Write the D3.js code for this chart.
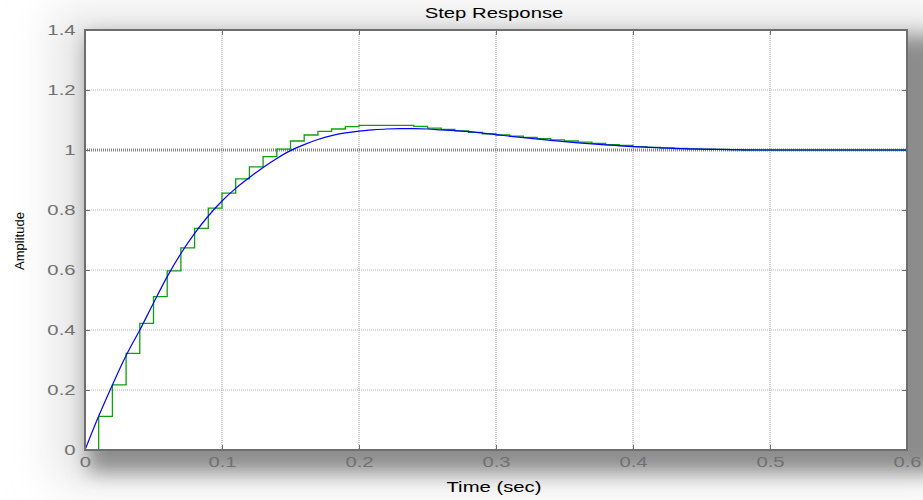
<!DOCTYPE html>
<html>
<head>
<meta charset="utf-8">
<script src="https://cdn.jsdelivr.net/npm/d3@7"></script>
<style>
  body { margin: 0; background: #fff; }
  text { font-family: "Liberation Sans", Arial, sans-serif; }
</style>
</head>
<body>
<div id="chart"></div>
<script>
// continuous response (blue)
var contTime = [0, 0.01, 0.02, 0.03, 0.04, 0.05, 0.06, 0.07, 0.08, 0.09, 0.10, 0.11, 0.12, 0.13, 0.14, 0.15,
    0.16, 0.17, 0.18, 0.19, 0.20, 0.21, 0.22, 0.23, 0.24, 0.25, 0.26, 0.28, 0.30, 0.32, 0.34, 0.36, 0.38,
    0.40, 0.42, 0.44, 0.46, 0.50, 0.55, 0.60];
var contAmp = [0, 0.113, 0.217, 0.315, 0.400, 0.490, 0.578, 0.655, 0.722, 0.780, 0.830, 0.872, 0.908, 0.942, 0.972, 0.998,
    1.018, 1.035, 1.048, 1.057, 1.063, 1.067, 1.070, 1.071, 1.071, 1.070, 1.067, 1.061, 1.051, 1.041, 1.032, 1.024, 1.017,
    1.011, 1.007, 1.004, 1.002, 1.000, 1.000, 1.000];

// discrete response (green), one value per 0.01 s sample
var sampleTime = d3.range(0, 61).map(function (k) { return k / 100; });
var discAmp = [0, 0.112, 0.217, 0.322, 0.422, 0.511, 0.597, 0.674, 0.739, 0.806,
    0.856, 0.904, 0.944, 0.978, 1.003, 1.030, 1.050, 1.062, 1.070, 1.078,
    1.082, 1.082, 1.082, 1.082, 1.079, 1.073, 1.069, 1.064, 1.059, 1.054,
    1.050, 1.046, 1.042, 1.038, 1.034, 1.030, 1.026, 1.022, 1.018, 1.015,
    1.011, 1.009, 1.007, 1.005, 1.004, 1.003, 1.002, 1.001, 1.000, 1.000,
    1.000, 1.000, 1.000, 1.000, 1.000, 1.000, 1.000, 1.000, 1.000, 1.000, 1.000];

var xTicks = [0, 0.1, 0.2, 0.3, 0.4, 0.5, 0.6];
var yTicks = [0, 0.2, 0.4, 0.6, 0.8, 1, 1.2, 1.4];

function draw_stepChart() {
    var W = 923, H = 500;
    var pLeft = 85, pRight = 907, pTop = 30, pBottom = 450;

    var svg = d3.select("#chart").append("svg")
        .attr("width", W)
        .attr("height", H);

    var defs = svg.append("defs");
    defs.append("filter")
        .attr("id", "shadow")
        .attr("x", "-20%").attr("y", "-20%")
        .attr("width", "140%").attr("height", "140%")
        .append("feGaussianBlur")
        .attr("stdDeviation", 10);
    defs.append("filter")
        .attr("id", "halo")
        .attr("x", "-20%").attr("y", "-20%")
        .attr("width", "140%").attr("height", "140%")
        .append("feGaussianBlur")
        .attr("stdDeviation", 22);

    // soft drop shadow behind the axes
    svg.append("rect")
        .attr("x", 55).attr("y", 12)
        .attr("width", 900).attr("height", 470)
        .attr("fill", "#e4e4e4")
        .attr("filter", "url(#halo)");

    svg.append("rect")
        .attr("x", 88).attr("y", 36)
        .attr("width", 860).attr("height", 436)
        .attr("fill", "#8c8c8c")
        .attr("filter", "url(#shadow)");

    var x = d3.scaleLinear().domain([0, 0.6]).range([pLeft, pRight]);
    var y = d3.scaleLinear().domain([0, 1.4]).range([pBottom, pTop]);

    svg.append("rect")
        .attr("x", pLeft).attr("y", pTop)
        .attr("width", pRight - pLeft).attr("height", pBottom - pTop)
        .attr("fill", "#fff");

    // grid
    svg.append("g")
        .selectAll("line")
        .data(xTicks.slice(1, -1))
        .enter().append("line")
        .attr("x1", function (d) { return x(d); })
        .attr("x2", function (d) { return x(d); })
        .attr("y1", pTop).attr("y2", pBottom)
        .attr("stroke", "#9a9a9a")
        .attr("stroke-width", 1)
        .attr("stroke-dasharray", "1,1");

    svg.append("g")
        .selectAll("line")
        .data(yTicks.slice(1, -1).filter(function (d) { return d !== 1; }))
        .enter().append("line")
        .attr("x1", pLeft).attr("x2", pRight)
        .attr("y1", function (d) { return y(d); })
        .attr("y2", function (d) { return y(d); })
        .attr("stroke", "#b0b0b0")
        .attr("stroke-width", 1)
        .attr("stroke-dasharray", "1,1");

    // steady-state reference line
    svg.append("line")
        .attr("x1", pLeft).attr("x2", pRight)
        .attr("y1", y(1)).attr("y2", y(1))
        .attr("stroke", "#858585")
        .attr("stroke-width", 3)
        .attr("stroke-dasharray", "1,1");

    // axes with inner ticks
    function styleAxis(g) {
        g.select(".domain").remove();
        g.selectAll(".tick line").attr("stroke", "#707070").attr("stroke-width", 1);
        g.selectAll(".tick text")
            .attr("fill", "#707070")
            .attr("font-size", 14);
    }

    var xAxis = svg.append("g")
        .attr("transform", "translate(0," + pBottom + ")")
        .call(d3.axisBottom(x).tickValues(xTicks).tickSizeInner(-5).tickSizeOuter(0)
            .tickFormat(d3.format("")))
        .call(styleAxis);
    xAxis.selectAll(".tick text")
        .attr("transform", "scale(1.45,1)")
        .attr("y", 7)
        .attr("dy", "0.71em");

    svg.append("g")
        .attr("transform", "translate(0," + pTop + ")")
        .call(d3.axisTop(x).tickValues(xTicks).tickSizeInner(-5).tickSizeOuter(0).tickFormat(""))
        .call(styleAxis);

    var yAxis = svg.append("g")
        .attr("transform", "translate(" + pLeft + ",0)")
        .call(d3.axisLeft(y).tickValues(yTicks).tickSizeInner(-5).tickSizeOuter(0)
            .tickFormat(d3.format("")))
        .call(styleAxis);
    yAxis.selectAll(".tick text")
        .attr("x", -6.5)
        .attr("transform", "scale(1.45,1)");

    svg.append("g")
        .attr("transform", "translate(" + pRight + ",0)")
        .call(d3.axisRight(y).tickValues(yTicks).tickSizeInner(-5).tickSizeOuter(0).tickFormat(""))
        .call(styleAxis);

    // responses
    var stepLine = d3.line()
        .x(function (d, i) { return x(sampleTime[i]); })
        .y(function (d) { return y(d); })
        .curve(d3.curveStepAfter);

    svg.append("path")
        .datum(discAmp)
        .attr("d", stepLine)
        .attr("fill", "none")
        .attr("stroke", "#0ea00e")
        .attr("stroke-width", 1.3);

    var contLine = d3.line()
        .x(function (d, i) { return x(contTime[i]); })
        .y(function (d) { return y(d); })
        .curve(d3.curveMonotoneX);

    svg.append("path")
        .datum(contAmp)
        .attr("d", contLine)
        .attr("fill", "none")
        .attr("stroke", "#0000ff")
        .attr("stroke-width", 1.2);

    // axes box
    svg.append("rect")
        .attr("x", pLeft).attr("y", pTop)
        .attr("width", pRight - pLeft).attr("height", pBottom - pTop)
        .attr("fill", "none")
        .attr("stroke", "#6e6e6e")
        .attr("stroke-width", 2);

    // titles
    svg.append("text")
        .attr("transform", "translate(494,18) scale(1.45,1)")
        .attr("text-anchor", "middle")
        .attr("font-size", 14)
        .attr("fill", "#000")
        .text("Step Response");

    svg.append("text")
        .attr("transform", "translate(494,492) scale(1.45,1)")
        .attr("text-anchor", "middle")
        .attr("font-size", 14)
        .attr("fill", "#000")
        .text("Time (sec)");

    svg.append("text")
        .attr("transform", "translate(24,241) rotate(-90)")
        .attr("text-anchor", "middle")
        .attr("font-size", 13)
        .attr("fill", "#000")
        .text("Amplitude");
}

draw_stepChart();
</script>
</body>
</html>
